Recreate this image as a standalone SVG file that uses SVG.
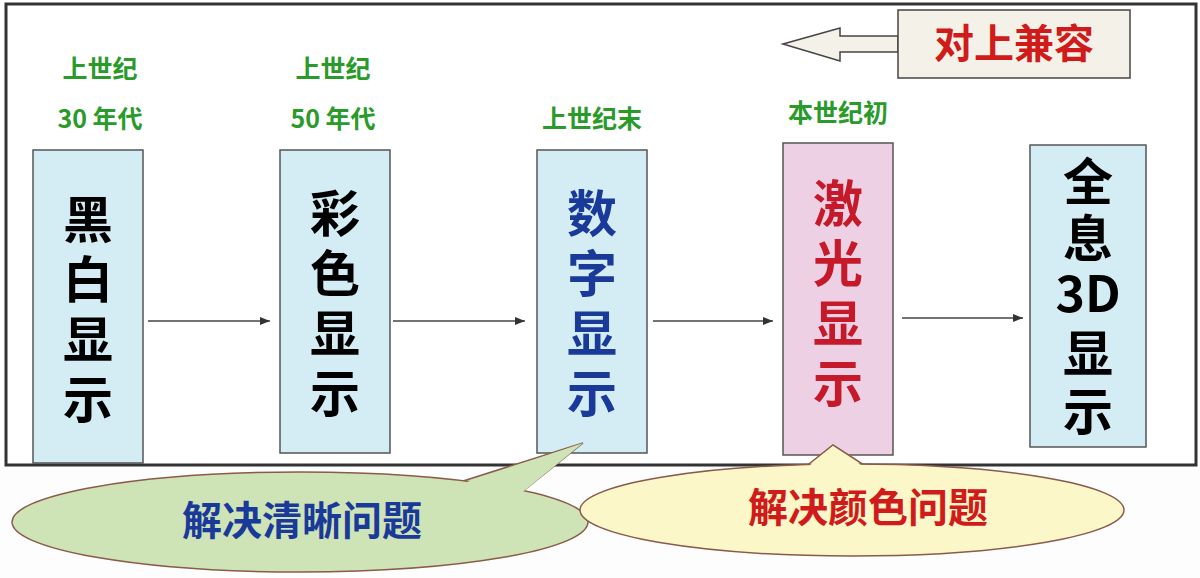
<svg xmlns="http://www.w3.org/2000/svg" width="1200" height="578" viewBox="0 0 1200 578">
<defs>
<style>
.box{stroke:#555;stroke-width:1.5}
.blue{fill:#d4ecf4}
.big{font-family:"Noto Sans CJK SC",sans-serif;font-size:50px;font-weight:bold;text-anchor:middle}
.lbl{font-family:"Noto Sans CJK SC",sans-serif;font-size:25px;font-weight:bold;fill:#2a9a2a;text-anchor:middle}
.con{stroke:#444;stroke-width:1.3;fill:none}
.edge{stroke:#8a5a4a;stroke-width:1.5}
</style>
<marker id="ah" viewBox="0 0 10 10" refX="10" refY="5" markerWidth="8" markerHeight="8" orient="auto"><path d="M0,1 L10,5 L0,9 z" fill="#333"/></marker>
</defs>
<rect width="1200" height="578" fill="#fff"/>
<path d="M6,465 V4 H1196 V465 Z" fill="#fff" stroke="#333" stroke-width="3"/>
<rect x="0" y="467" width="1200" height="111" fill="#fdfdfd"/>
<g id="compat">
<path d="M783,44 L840,28 L840,36 L898,36 L898,52 L840,52 L840,61 Z" fill="#f4f1e8" stroke="#444" stroke-width="1.5"/>
<rect x="898" y="10" width="232" height="68" fill="#f4f1e8" stroke="#444" stroke-width="1.5"/>
<text x="1014" y="58" font-family="Noto Sans CJK SC,sans-serif" font-size="40" font-weight="bold" fill="#d11a1a" text-anchor="middle">对上兼容</text>
</g>
<g id="n1"><text class="lbl" x="100" y="78">上世纪</text><text class="lbl" x="100" y="128">30 年代</text>
<rect class="box blue" x="33" y="150" width="110" height="313"/>
<text class="big" x="88" y="238">黑</text><text class="big" x="88" y="298">白</text><text class="big" x="88" y="358">显</text><text class="big" x="88" y="418">示</text></g>
<g id="n2"><text class="lbl" x="333" y="78">上世纪</text><text class="lbl" x="333" y="128">50 年代</text>
<rect class="box blue" x="280" y="150" width="110" height="303"/>
<text class="big" x="335" y="232">彩</text><text class="big" x="335" y="292">色</text><text class="big" x="335" y="352">显</text><text class="big" x="335" y="412">示</text></g>
<g id="n3"><text class="lbl" x="592" y="128">上世纪末</text>
<rect class="box blue" x="537" y="150" width="110" height="303"/>
<g fill="#1a3a9a"><text class="big" x="592" y="232">数</text><text class="big" x="592" y="292">字</text><text class="big" x="592" y="352">显</text><text class="big" x="592" y="412">示</text></g></g>
<g id="n4"><text class="lbl" x="838" y="122">本世纪初</text>
<rect class="box" fill="#edd0e4" x="783" y="143" width="110" height="312"/>
<g fill="#c41a2a"><text class="big" x="838" y="222">激</text><text class="big" x="838" y="282">光</text><text class="big" x="838" y="342">显</text><text class="big" x="838" y="402">示</text></g></g>
<g id="n5">
<rect class="box blue" x="1030" y="145" width="116" height="302"/>
<text class="big" x="1088" y="200" font-size="44">全</text><text class="big" x="1088" y="257" font-size="44">息</text><text class="big" x="1088" y="312" font-family="Liberation Sans,sans-serif" font-size="34">3D</text><text class="big" x="1088" y="372" font-size="44">显</text><text class="big" x="1088" y="430" font-size="44">示</text></g>
<g id="connectors">
<line class="con" x1="148" y1="321" x2="270" y2="321" marker-end="url(#ah)"/>
<line class="con" x1="393" y1="321" x2="525" y2="321" marker-end="url(#ah)"/>
<line class="con" x1="653" y1="321" x2="773" y2="321" marker-end="url(#ah)"/>
<line class="con" x1="902" y1="318" x2="1023" y2="318" marker-end="url(#ah)"/>
</g>
<g id="callout1">
<path class="edge" d="M460,482 L583,443 L512,500 Z" fill="#cfe4b6"/>
<ellipse class="edge" cx="300" cy="522" rx="288" ry="50" fill="#cfe4b6"/>
<path d="M455,486 L583,443 L508,504 Z" fill="#cfe4b6"/>
</g>
<text x="302" y="535" font-family="Noto Sans CJK SC,sans-serif" font-size="40" font-weight="bold" fill="#1a3a9a" text-anchor="middle">解决清晰问题</text>
<g id="callout2">
<path class="edge" d="M795,475 L833,445 L875,472 Z" fill="#fbf7c8"/>
<ellipse class="edge" cx="852" cy="510" rx="272" ry="46" fill="#fbf7c8"/>
<path d="M792,480 L833,446 L880,478 Z" fill="#fbf7c8"/>
</g>
<text x="868" y="522" font-family="Noto Sans CJK SC,sans-serif" font-size="40" font-weight="bold" fill="#d11a1a" text-anchor="middle">解决颜色问题</text>
</svg>
